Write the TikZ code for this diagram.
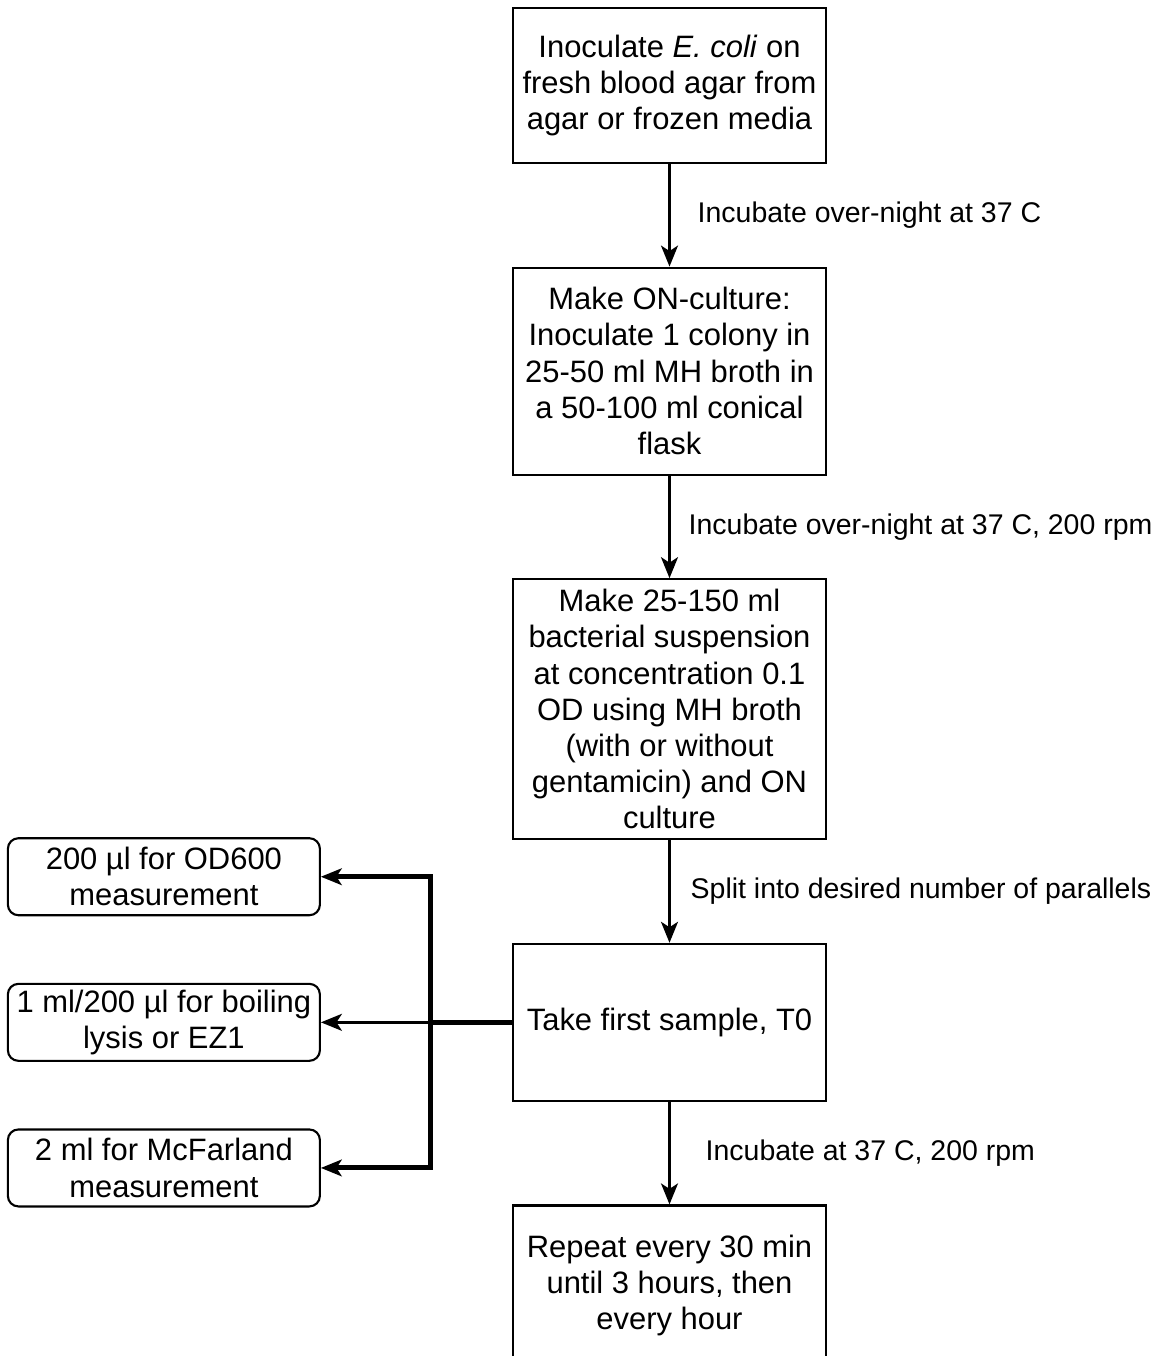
\documentclass[tikz,border=0pt]{standalone}
\usepackage{fontspec}
\setmainfont{Liberation Sans}
\usetikzlibrary{positioning, arrows.meta, calc}

\begin{document}
\begin{tikzpicture}[
  node distance=2.05cm and 3.82cm,
  stepbox/.style={draw, line width=1.2pt, minimum width=6.26cm, align=center,
                  font=\fontsize{17.6}{20.6}\selectfont, inner sep=2pt},
  samplebox/.style={stepbox, rounded corners=6pt, minimum width=6.24cm,
                    minimum height=1.54cm},
  arrow/.style={-{Stealth[length=0.42cm, width=0.34cm, inset=0.11cm]}, line width=1.4pt},
  thickarrow/.style={-{Stealth[length=0.42cm, width=0.34cm, inset=0.11cm, line width=1.2pt]},
                     line width=2.8pt},
  steplabel/.style={font=\fontsize{16.2}{19}\selectfont, inner sep=0pt, anchor=west},
]
  \useasboundingbox (0,0) rectangle (23.26,-27.12);
  % Main chain
  \node[stepbox, minimum height=3.1cm] (inoc) at (13.39,-1.71)
    {Inoculate \textit{E. coli} on\\fresh blood agar from\\agar or frozen media};
  \node[stepbox, minimum height=4.14cm, below=of inoc] (onculture)
    {Make ON-culture:\\Inoculate 1 colony in\\25-50 ml MH broth in\\a 50-100 ml conical\\flask};
  \node[stepbox, minimum height=5.2cm, below=of onculture] (susp)
    {Make 25-150 ml\\bacterial suspension\\at concentration 0.1\\OD using MH broth\\(with or without\\gentamicin) and ON\\culture};
  \node[stepbox, minimum height=3.14cm, below=of susp] (tzero)
    {Take first sample, T0};
  \node[stepbox, minimum height=3.2cm, below=of tzero] (repeat)
    {Repeat every 30 min\\until 3 hours, then\\every hour};
  % Sample boxes
  \node[samplebox, left=of tzero] (lysis) {1 ml/200 µl for boiling\\lysis or EZ1};
  \node[samplebox, above=1.33cm of lysis] (odsix) {200 µl for OD600\\measurement};
  \node[samplebox, below=1.33cm of lysis] (mcf) {2 ml for McFarland\\measurement};
  \coordinate (split) at ($(tzero.west)+(-1.62,0)$);
  % Arrows
  \draw[arrow] (inoc) -- (onculture)
    node[midway, steplabel, right=0.54cm] {Incubate over-night at 37 C};
  \draw[arrow] (onculture) -- (susp)
    node[midway, steplabel, right=0.36cm] {Incubate over-night at 37 C, 200 rpm};
  \draw[arrow] (susp) -- (tzero)
    node[midway, steplabel, right=0.4cm] {Split into desired number of parallels};
  \draw[arrow] (tzero) -- (repeat)
    node[midway, steplabel, right=0.7cm] {Incubate at 37 C, 200 rpm};
  % Samples
  \draw[line width=2.8pt] (tzero.west) -- (split);
  \draw[arrow] (split) -- (lysis);
  \draw[thickarrow] (split) |- (odsix);
  \draw[thickarrow] (split) |- (mcf);
\end{tikzpicture}
\end{document}
